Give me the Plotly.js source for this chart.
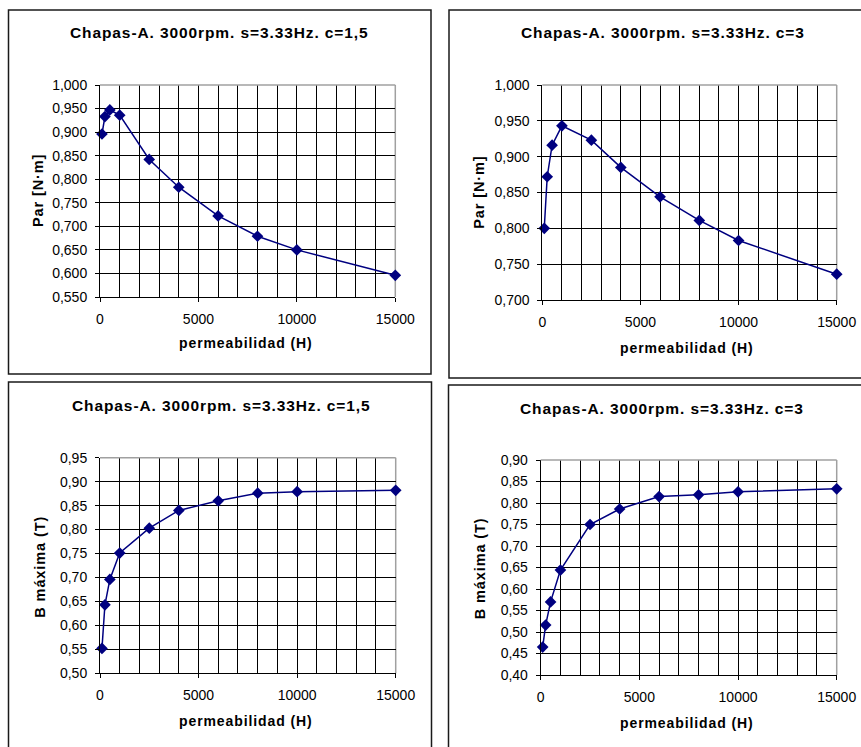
<!DOCTYPE html>
<html>
<head>
<meta charset="utf-8">
<script src="https://cdn.plot.ly/plotly-3.0.1.min.js"></script>
<style>
html,body{margin:0;padding:0;background:#fff;}
#chart{width:861px;height:747px;}
.annotation-text{letter-spacing:0.9px;}
</style>
</head>
<body>
<div id="chart"></div>
<script>
// ---- data ----
const permeabilidad = [100, 250, 500, 1000, 2500, 4000, 6000, 8000, 10000, 15000];
const par_c15  = [0.896, 0.933, 0.947, 0.936, 0.842, 0.783, 0.722, 0.679, 0.650, 0.596];
const par_c3   = [0.800, 0.872, 0.916, 0.943, 0.923, 0.885, 0.844, 0.811, 0.783, 0.736];
const bmax_c15 = [0.552, 0.643, 0.696, 0.751, 0.803, 0.840, 0.860, 0.876, 0.879, 0.882];
const bmax_c3  = [0.465, 0.516, 0.570, 0.644, 0.750, 0.786, 0.815, 0.819, 0.826, 0.833];
const titles = ["Chapas-A. 3000rpm. s=3.33Hz. c=1,5", "Chapas-A. 3000rpm. s=3.33Hz. c=3",
                "Chapas-A. 3000rpm. s=3.33Hz. c=1,5", "Chapas-A. 3000rpm. s=3.33Hz. c=3"];
const xTitle = "permeabilidad (H)";
const yTitles = ["Par [N·m]", "Par [N·m]", "B máxima (T)", "B máxima (T)"];
const yRanges = [[0.55, 1.0], [0.70, 1.0], [0.50, 0.95], [0.40, 0.90]];
const yFormats = [".3f", ".3f", ".2f", ".2f"];
const xTickVals = [0, 5000, 10000, 15000];

// ---- layout helpers ----
const W = 861, H = 747;
const fx = p => p / W;
const fy = p => 1 - p / H;
const panels = [
  {x0:100, x1:395.3, y0:85, y1:297, tx:219.5, ty:33, xtx:246.3, xty:343.3, ytx:38.3, yty:190.8},
  {x0:542.3, x1:836.7, y0:85, y1:300, tx:662.5, ty:33, xtx:686.7, xty:348.3, ytx:478.3, yty:192.5},
  {x0:100, x1:395.7, y0:457.7, y1:673.3, tx:221, ty:405, xtx:246.3, xty:720.7, ytx:40, yty:566.7},
  {x0:540.7, x1:836.7, y0:460, y1:675, tx:661.7, ty:408.3, xtx:687.3, xty:722.7, ytx:480, yty:568.3}
];
const series = [par_c15, par_c3, bmax_c15, bmax_c3];
const navy = "#000080";
const font = {family: "Liberation Sans, Arial, sans-serif", color: "#000"};

const data = [];
const layout = {
  width: W, height: H,
  margin: {l:0, r:0, t:0, b:0},
  paper_bgcolor: "#fff", plot_bgcolor: "#fff",
  showlegend: false,
  separators: ",.",
  font: Object.assign({size: 13.5}, font),
  annotations: [], shapes: []
};

panels.forEach((p, i) => {
  const n = i + 1;
  const xa = "xaxis" + (n === 1 ? "" : n), ya = "yaxis" + (n === 1 ? "" : n);
  const xr = "x" + (n === 1 ? "" : n), yr = "y" + (n === 1 ? "" : n);
  data.push({
    type: "scatter", mode: "lines+markers",
    x: permeabilidad, y: series[i],
    xaxis: xr, yaxis: yr,
    line: {color: navy, width: 1.5},
    marker: {symbol: "diamond", size: 9, color: navy},
    cliponaxis: false, hoverinfo: "skip"
  });
  layout[xa] = {
    domain: [fx(p.x0), fx(p.x1)], anchor: yr,
    range: [0, 15000], fixedrange: true,
    tickmode: "array", tickvals: xTickVals, tickformat: "d",
    ticks: "outside", ticklen: 4, tickcolor: "#000", tickwidth: 1,
    ticklabelstandoff: 5,
    showline: true, linecolor: "#000", linewidth: 1,
    showgrid: true, gridcolor: "#000", gridwidth: 1,
    minor: {dtick: 1000, tick0: 0, showgrid: true, gridcolor: "#000", gridwidth: 1, ticks: ""},
    zeroline: false,
    tickfont: Object.assign({size: 14}, font)
  };
  layout[ya] = {
    domain: [fy(p.y1), fy(p.y0)], anchor: xr,
    range: yRanges[i], dtick: 0.05, tick0: 0, fixedrange: true,
    tickformat: yFormats[i],
    ticks: "outside", ticklen: 4, tickcolor: "#000", tickwidth: 1,
    ticklabelstandoff: 5,
    showline: true, linecolor: "#000", linewidth: 1,
    showgrid: true, gridcolor: "#000", gridwidth: 1,
    zeroline: false,
    tickfont: Object.assign({size: 14}, font)
  };
  // gray top and right frame of plot area
  layout.shapes.push({type:"line", xref: xr + " domain", yref: yr + " domain", x0:0, x1:1, y0:1, y1:1,
                      line:{color:"#a0a0a0", width:1.5}, layer:"above"});
  layout.shapes.push({type:"line", xref: xr + " domain", yref: yr + " domain", x0:1, x1:1, y0:0, y1:1,
                      line:{color:"#a0a0a0", width:1.5}, layer:"below"});
  layout.annotations.push({text: "<b>" + titles[i] + "</b>", xref:"paper", yref:"paper",
    x: fx(p.tx), y: fy(p.ty), xanchor:"center", yanchor:"middle", showarrow:false,
    font: Object.assign({size: 15.5}, font)});
  layout.annotations.push({text: "<b>" + xTitle + "</b>", xref:"paper", yref:"paper",
    x: fx(p.xtx), y: fy(p.xty), xanchor:"center", yanchor:"middle", showarrow:false,
    font: Object.assign({size: 14}, font)});
  layout.annotations.push({text: "<b>" + yTitles[i] + "</b>", xref:"paper", yref:"paper",
    x: fx(p.ytx), y: fy(p.yty), xanchor:"center", yanchor:"middle", showarrow:false, textangle:-90,
    font: Object.assign({size: 14.5}, font)});
});

// panel borders (pixel positions converted to paper)
const borders = [[8.5, 10, 431, 374], [449, 10, 875, 378], [8.5, 382, 431.5, 760], [448.5, 385, 875, 760]];
borders.forEach(b => layout.shapes.push({type:"rect", xref:"paper", yref:"paper",
  x0: fx(b[0]), x1: fx(b[2]), y0: fy(b[3]), y1: fy(b[1]),
  line:{color:"#1a1a1a", width:1.5}, fillcolor:"rgba(0,0,0,0)", layer:"above"}));

Plotly.newPlot("chart", data, layout, {staticPlot: true, displayModeBar: false});
</script>
</body>
</html>
